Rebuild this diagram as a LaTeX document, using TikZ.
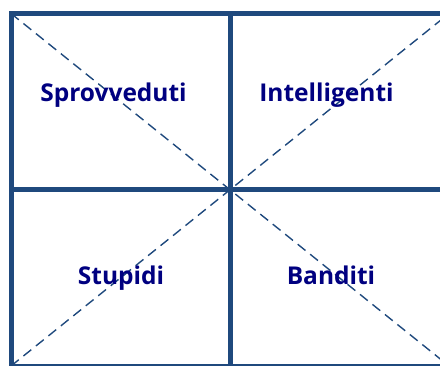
\documentclass[tikz,border=0pt]{standalone}
\usepackage{fontspec}
\setsansfont{Open Sans}
\usepackage{tikz}
\usepackage{xcolor}
\usetikzlibrary{positioning}
\definecolor{framecol}{HTML}{1F497D}
\definecolor{textcol}{HTML}{000080}

\begin{document}
\begin{tikzpicture}[
          x=1pt, y=-1pt,
          frame/.style={draw=framecol, line width=5pt},
          diag/.style={draw=framecol, line width=1.4pt, dash pattern=on 10pt off 6pt},
          lbl/.style={text=textcol, anchor=base, font=\sffamily\bfseries\fontsize{24.5}{29}\selectfont}
      ]
        \useasboundingbox (0,0) rectangle (440,365);
        \coordinate (nw) at (11,13.5);
        \coordinate (ne) at (449,13.5);
        \coordinate (sw) at (11,366);
        \coordinate (se) at (449,366);
        \coordinate (mid) at (230,189);
        \draw[diag] (nw) -- (se);
        \draw[diag] (sw) -- (ne);
        \draw[frame] (nw) rectangle (se);
        \draw[frame] (mid |- nw) -- (mid |- se);
        \draw[frame] (mid -| nw) -- (mid -| se);
        \node[lbl] (sprovveduti) at (113.5,101) {Sprovveduti};
        \node[lbl] (intelligenti) at (326.5,101) {Intelligenti};
        \node[lbl] (stupidi) at (121,284) {Stupidi};
        \node[lbl] (banditi) at (331,284) {Banditi};
      \end{tikzpicture}
\end{document}
